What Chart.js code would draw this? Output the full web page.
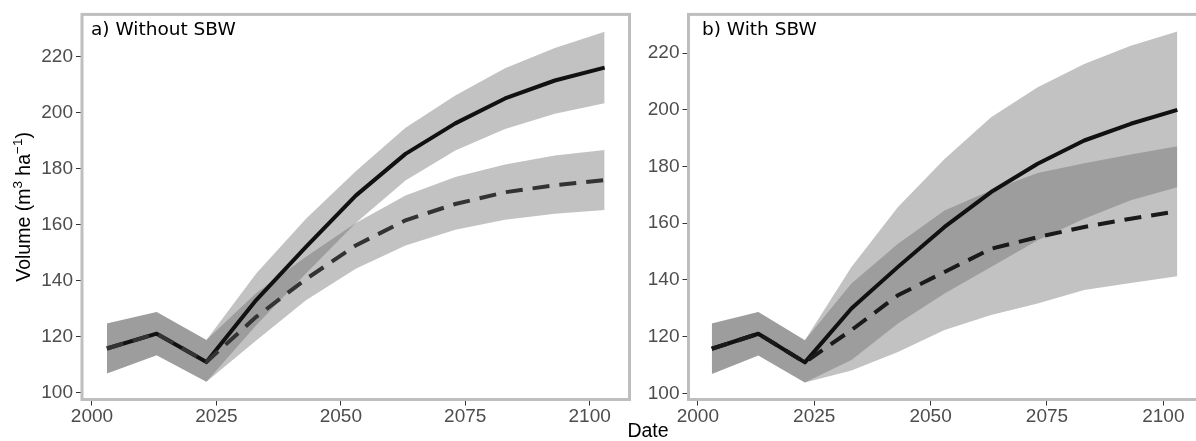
<!DOCTYPE html>
<html><head><meta charset="utf-8">
<script src="https://cdn.jsdelivr.net/npm/chart.js@4/dist/chart.umd.min.js"></script>
<style>
html,body{margin:0;padding:0;background:#fff;overflow:hidden;width:1196px;height:441px;position:relative}
canvas{position:absolute;top:0}
#ca{left:0}
#cb{left:600px}
</style></head><body>
<canvas id="ca" width="640" height="441"></canvas>
<canvas id="cb" width="610" height="441"></canvas>
<script>
// ---- data ----
const years = [2003, 2013, 2023, 2033, 2043, 2053, 2063, 2073, 2083, 2093, 2103];
const xTicks = [2000, 2025, 2050, 2075, 2100];
const xTickLabels = ['2000', '2025', '2050', '2075', '2100'];
const yTicks = [100, 120, 140, 160, 180, 200, 220];
const yTickLabels = ['100', '120', '140', '160', '180', '200', '220'];

// a) Without SBW
const aSolid    = [115.7, 121.0, 110.9, 133.0, 152.0, 170.3, 185.2, 196.1, 205.0, 211.4, 216.0];
const aSolidHi  = [124.6, 128.7, 118.7, 142.5, 162.0, 179.0, 194.5, 206.0, 215.8, 223.0, 228.8];
const aSolidLo  = [106.8, 113.3, 103.8, 124.0, 142.5, 160.5, 175.7, 186.4, 194.1, 199.5, 203.3];
const aDashed   = [115.7, 121.0, 110.9, 127.0, 140.5, 152.5, 161.5, 167.3, 171.5, 174.0, 175.8];
const aDashedHi = [124.6, 128.7, 118.7, 135.5, 148.5, 160.5, 170.3, 176.9, 181.4, 184.6, 186.6];
const aDashedLo = [106.8, 113.3, 103.8, 118.6, 132.9, 144.2, 152.5, 158.1, 161.7, 163.8, 165.2];

// b) With SBW
const bSolid    = [115.7, 121.0, 110.9, 129.9, 144.6, 158.7, 171.0, 181.0, 189.2, 195.1, 200.0];
const bSolidHi  = [124.6, 128.7, 118.7, 144.6, 165.7, 182.7, 197.4, 208.0, 216.2, 222.6, 227.7];
const bSolidLo  = [106.8, 113.3, 103.8, 108.0, 114.6, 122.3, 127.6, 131.7, 136.4, 138.9, 141.3];
const bDashed   = [115.7, 121.0, 110.9, 122.3, 134.6, 142.8, 151.0, 155.1, 158.7, 161.6, 164.2];
const bDashedHi = [124.6, 128.7, 118.7, 138.7, 152.8, 164.5, 171.6, 177.7, 181.2, 184.3, 187.2];
const bDashedLo = [106.8, 113.3, 103.8, 111.7, 124.6, 135.2, 144.6, 154.0, 161.6, 168.1, 172.7];

const panelTitles = ['a) Without SBW', 'b) With SBW'];
const xTitle = 'Date';

// ---- styling ----
const RIBBON = 'rgba(102,102,102,0.40)';
const TICKFONT = {family: '"Liberation Sans", Arial, sans-serif', size: 19};
const TICKCOLOR = '#4d4d4d';
const BORDER = '#bebebe';

function pts(arr){ return years.map((x, i) => ({x: x, y: arr[i]})); }

function ribbon(hi, lo, order){
  return [
    {data: pts(hi), fill: '+1', backgroundColor: RIBBON, borderColor: 'rgba(0,0,0,0)', borderWidth: 0, pointRadius: 0, order: order, tension: 0},
    {data: pts(lo), fill: false, backgroundColor: 'rgba(0,0,0,0)', borderColor: 'rgba(0,0,0,0)', borderWidth: 0, pointRadius: 0, order: order + 1, tension: 0}
  ];
}

const borderPlugin = {
  id: 'panelBorder',
  afterDraw(chart, args, o){
    const {ctx, chartArea: a} = chart;
    ctx.save();
    ctx.strokeStyle = BORDER;
    ctx.lineWidth = 3;
    ctx.strokeRect(a.left, a.top, a.right - a.left, a.bottom - a.top);
    ctx.fillStyle = '#000';
    ctx.font = '18.5px "DejaVu Sans", sans-serif';
    ctx.textBaseline = 'alphabetic';
    ctx.textAlign = 'left';
    ctx.fillText(o.title, o.tx, o.ty);
    if (o.yTitle) {
      ctx.translate(24, (a.top + a.bottom) / 2);
      ctx.rotate(-Math.PI / 2);
      const big = '19.5px "Liberation Sans", Arial, sans-serif';
      const small = '13.5px "Liberation Sans", Arial, sans-serif';
      const parts = [['Volume (m', big, 0], ['3', small, -7], [' ha', big, 0], ['\u22121', small, -7], [')', big, 0]];
      let w = 0;
      parts.forEach(p => { ctx.font = p[1]; w += ctx.measureText(p[0]).width; });
      let x = -w / 2;
      ctx.textBaseline = 'middle';
      parts.forEach(p => { ctx.font = p[1]; ctx.fillText(p[0], x, p[2] + 1); x += ctx.measureText(p[0]).width; });
    }
    if (o.xTitle) {
      ctx.setTransform(1, 0, 0, 1, 0, 0);
      ctx.font = '19.5px "Liberation Sans", Arial, sans-serif';
      ctx.textAlign = 'center';
      ctx.textBaseline = 'middle';
      ctx.fillText(o.xTitle, o.xtx, o.xty);
    }
    ctx.restore();
  }
};

function makeChart(id, cfg){
  const datasets = [
    ...ribbon(cfg.sHi, cfg.sLo, 10),
    ...ribbon(cfg.dHi, cfg.dLo, 12),
    {data: pts(cfg.s), borderColor: '#111111', borderWidth: 4, pointRadius: 0, fill: false, order: 1, tension: 0, borderJoinStyle: 'round'},
    {data: pts(cfg.d), borderColor: cfg.dashColor, borderWidth: 4, borderDash: [17, 10], pointRadius: 0, fill: false, order: 0, tension: 0}
  ];
  return new Chart(document.getElementById(id), {
    type: 'line',
    data: {datasets},
    plugins: [borderPlugin],
    options: {
      responsive: false,
      animation: false,
      devicePixelRatio: 1,
      layout: {padding: {top: 13.5, right: cfg.padRight, bottom: 0, left: 0}},
      plugins: {
        legend: {display: false},
        tooltip: {enabled: false},
        panelBorder: {title: cfg.title, tx: cfg.tx, ty: 34.5, yTitle: cfg.yTitle, xTitle: cfg.xTitle, xtx: cfg.xtx, xty: 431.5}
      },
      scales: {
        x: {
          type: 'linear', min: 1998, max: 2108,
          afterBuildTicks: s => { s.ticks = xTicks.map(v => ({value: v})); },
          afterFit: s => { s.height = 41.5; },
          ticks: {font: TICKFONT, color: TICKCOLOR, padding: 0, maxRotation: 0, autoSkip: false,
                  callback: v => xTickLabels[xTicks.indexOf(v)]},
          grid: {display: true, drawOnChartArea: false, drawTicks: true, tickLength: 6, color: '#333333', lineWidth: 1},
          border: {display: false}
        },
        y: {
          type: 'linear', min: cfg.yMin, max: cfg.yMax,
          afterBuildTicks: s => { s.ticks = yTicks.map(v => ({value: v})); },
          afterFit: s => { s.width = cfg.left; },
          ticks: {font: TICKFONT, color: TICKCOLOR, padding: 3, autoSkip: false,
                  callback: v => yTickLabels[yTicks.indexOf(v)]},
          grid: {display: true, drawOnChartArea: false, drawTicks: true, tickLength: 6, color: '#333333', lineWidth: 1},
          border: {display: false}
        }
      }
    }
  });
}

makeChart('ca', {
  s: aSolid, sHi: aSolidHi, sLo: aSolidLo, d: aDashed, dHi: aDashedHi, dLo: aDashedLo,
  dashColor: '#333333', yMin: 97.5, yMax: 235.0, left: 82, padRight: 10.5,
  title: panelTitles[0], tx: 91, yTitle: true
});
makeChart('cb', {
  s: bSolid, sHi: bSolidHi, sLo: bSolidLo, d: bDashed, dHi: bDashedHi, dLo: bDashedLo,
  dashColor: '#1a1a1a', yMin: 97.8, yMax: 233.7, left: 88.5, padRight: 9.4,
  title: panelTitles[1], tx: 102, yTitle: false, xTitle: xTitle, xtx: 48
});
</script>
</body></html>
